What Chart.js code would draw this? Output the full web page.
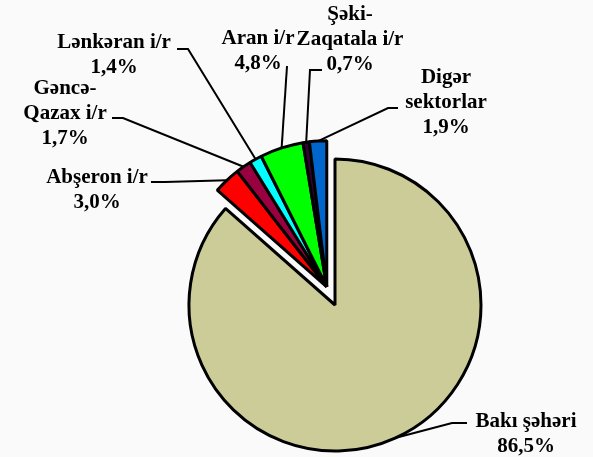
<!DOCTYPE html>
<html>
<head>
<meta charset="utf-8">
<script src="https://cdn.jsdelivr.net/npm/chart.js@4"></script>
<style>
  html, body { margin: 0; padding: 0; background: #fafafa; }
  #wrap { width: 593px; height: 457px; }
</style>
</head>
<body>
<div id="wrap"><canvas id="sectorChart"></canvas></div>
<script>
const sectors = ["Bakı şəhəri", "Abşeron i/r", "Gəncə-Qazax i/r", "Lənkəran i/r", "Aran i/r", "Şəki-Zaqatala i/r", "Digər sektorlar"]
const shares = [86.5, 3.0, 1.7, 1.4, 4.8, 0.7, 1.9]
const sliceColors = ["#cccc99", "#ff0000", "#990040", "#00ffff", "#00ff00", "#330033", "#0066cc"]

// label text lines, centre and leader stub (layout only)
const labelLines = [
  ["Bakı şəhəri", "86,5%"],
  ["Abşeron i/r", "3,0%"],
  ["Gəncə-", "Qazax i/r", "1,7%"],
  ["Lənkəran i/r", "1,4%"],
  ["Aran i/r", "4,8%"],
  ["Şəki-", "Zaqatala i/r", "0,7%"],
  ["Digər", "sektorlar", "1,9%"],
]
const labelPos = [[526, 422], [97, 178], [65, 89], [114, 43], [258, 39], [350, 15], [446, 78]]
const leaderStart = [
  [[467, 423], [452, 423]],
  [[151, 182], [165, 182]],
  [[112, 118], [123, 118]],
  [[177, 49], [188, 49]],
  [[287, 66]],
  [[322, 70], [310, 70]],
  [[398, 108], [388, 108]],
]

// the small slices are pulled out together as one group
const groupShift = 20

function groupVector(arcs) {
  const a0 = arcs[1].startAngle
  const a1 = arcs[arcs.length - 1].endAngle
  const mid = (a0 + a1) / 2
  return [Math.cos(mid) * groupShift, Math.sin(mid) * groupShift]
}

const explodePlugin = {
  id: "explode",
  beforeDatasetDraw(chart, args) {
    const ctx = chart.ctx
    const arcs = args.meta.data
    const [dx, dy] = groupVector(arcs)
    arcs.forEach((arc, i) => {
      ctx.save()
      if (i > 0) ctx.translate(dx, dy)
      arc.draw(ctx)
      ctx.restore()
    })
    return false
  },
}

const labelPlugin = {
  id: "pieLabels",
  afterDatasetsDraw(chart) {
    const ctx = chart.ctx
    const arcs = chart.getDatasetMeta(0).data
    const [dx, dy] = groupVector(arcs)
    ctx.save()
    ctx.strokeStyle = "#000"
    ctx.lineWidth = 2
    arcs.forEach((arc, i) => {
      const mid = (arc.startAngle + arc.endAngle) / 2
      let ex = arc.x + Math.cos(mid) * arc.outerRadius
      let ey = arc.y + Math.sin(mid) * arc.outerRadius
      if (i > 0) { ex += dx; ey += dy }
      ctx.beginPath()
      leaderStart[i].forEach((p, k) => k === 0 ? ctx.moveTo(p[0], p[1]) : ctx.lineTo(p[0], p[1]))
      ctx.lineTo(ex, ey)
      ctx.stroke()
    })
    ctx.fillStyle = "#000"
    ctx.font = "bold 21px 'Liberation Serif', 'Times New Roman', serif"
    ctx.textAlign = "center"
    ctx.textBaseline = "middle"
    labelLines.forEach((lines, i) => {
      const [x, y] = labelPos[i]
      lines.forEach((t, k) => ctx.fillText(t, x, y + k * 25))
    })
    ctx.restore()
  },
}

function createSectorChart() {
  const data = {
    labels: sectors,
    datasets: [
      {
        data: shares,
        backgroundColor: sliceColors,
        borderColor: "#000",
        borderWidth: 3,
      },
    ],
  }

  const config = {
    type: "pie",
    data: data,
    options: {
      responsive: true,
      maintainAspectRatio: false,
      animation: false,
      radius: 146,
      layout: { padding: { left: 77, right: 0, top: 153, bottom: 0 } },
      plugins: {
        legend: false,
        tooltip: { enabled: false },
      },
    },
    plugins: [explodePlugin, labelPlugin],
  }

  const ctx = document.getElementById("sectorChart")
  const sectorChart = new Chart(ctx, config)
}

document.addEventListener("DOMContentLoaded", () => {
  createSectorChart()
});
</script>
</body>
</html>
